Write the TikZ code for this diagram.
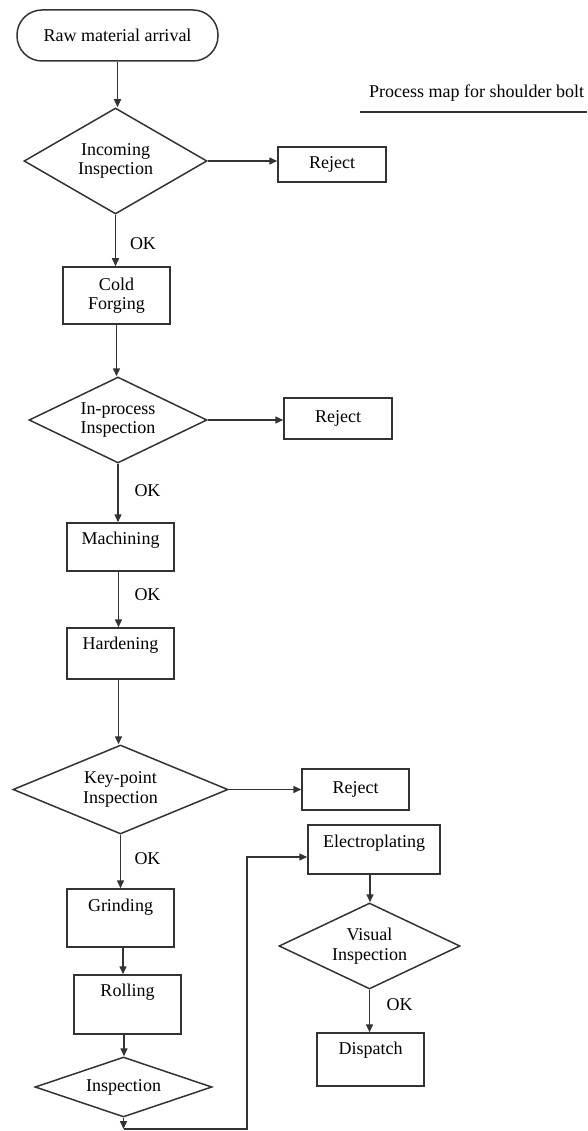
\documentclass[tikz,border=0pt]{standalone}
\usepackage{fontspec}
\setmainfont{Liberation Serif}
\usetikzlibrary{shapes.geometric,arrows.meta,calc}
\begin{document}
\begin{tikzpicture}[x=1pt,y=-1pt,
  every node/.style={font=\fontsize{18}{19.5}\selectfont, text=black},
  ln/.style={draw=black!80, line width=1.5pt},
  arr/.style={ln, -{Triangle[length=8pt,width=7pt]}},
  box/.style={ln, rectangle, inner sep=0pt, align=center},
  dia/.style={ln, diamond, inner sep=0pt, align=center},
  txt/.style={inner sep=0pt, align=center}]
\path[use as bounding box] (0,0) rectangle (587,1131);

% start
\node[ln, rectangle, rounded corners=25pt, minimum width=201pt, minimum height=51pt] (start) at (117.5,35.5) {Raw material arrival};

% title
\node[txt, anchor=base west] (title) at (369,98) {Process map for shoulder bolt};
\coordinate (ul1) at (360,112);
\coordinate (ul2) at (587,112);
\draw[ln] (ul1) -- (ul2);

% main column
\node[dia, aspect=1.73, minimum width=183pt, minimum height=106pt] (d1) at (115.5,161) {Incoming\\Inspection};
\node[box, minimum width=108pt, minimum height=35pt] (rej1) at (332,164.5) {Reject};
\node[box, minimum width=107pt, minimum height=57pt] (cold) at (116.5,295.5) {Cold\\Forging};
\node[dia, aspect=2.07, minimum width=178pt, minimum height=86pt] (d2) at (118,420) {In-process\\Inspection};
\node[box, minimum width=108pt, minimum height=41pt] (rej2) at (338,418.5) {Reject};
\node[box, minimum width=107pt, minimum height=48pt] (mach) at (120.5,547) {};
\node[txt] (macht) at (120.5,540.5) {Machining};
\node[box, minimum width=107pt, minimum height=51pt] (hard) at (120.5,653.5) {};
\node[txt] (hardt) at (120.5,645.5) {Hardening};
\node[dia, aspect=2.4, minimum width=215pt, minimum height=89pt] (d3) at (120.5,789.5) {Key-point\\Inspection};
\node[box, minimum width=107pt, minimum height=41pt] (rej3) at (355.5,789.5) {Reject};
\node[box, minimum width=107pt, minimum height=58pt] (grind) at (120.5,918) {};
\node[txt] (grindt) at (120.5,907.5) {Grinding};
\node[box, minimum width=107pt, minimum height=59pt] (roll) at (127.5,1004.5) {};
\node[txt] (rollt) at (127.5,992.5) {Rolling};
\node[dia, aspect=2.95, minimum width=177pt, minimum height=60pt] (d4) at (123.5,1087) {Inspection};

% right column
\node[box, minimum width=132pt, minimum height=49pt] (elec) at (374,849.5) {};
\node[txt] (elect) at (374,843) {Electroplating};
\node[dia, aspect=2.1, minimum width=181pt, minimum height=86pt] (d5) at (369.5,946) {Visual\\Inspection};
\node[box, minimum width=107pt, minimum height=53pt] (disp) at (370.5,1059.5) {};
\node[txt] (dispt) at (370.5,1050) {Dispatch};

% OK labels
\node[txt] (ok1) at (143,244) {OK};
\node[txt] (ok2) at (147.5,491) {OK};
\node[txt] (ok3) at (147.5,595) {OK};
\node[txt] (ok4) at (147.5,859) {OK};
\node[txt] (ok5) at (399.5,1005) {OK};

% connectors
\draw[arr] (start.south) -- (start.south |- d1.north);
\draw[arr] (d1.east) -- (d1.east -| rej1.west);
\draw[arr] (d1.south) -- (d1.south |- cold.north);
\draw[arr] (cold.south) -- (cold.south |- d2.north);
\draw[arr] (d2.east) -- (d2.east -| rej2.west);
\draw[arr] (d2.south) -- (d2.south |- mach.north);
\draw[arr] ([xshift=-2pt]mach.south) -- ([xshift=-2pt]mach.south |- hard.north);
\draw[arr] ([xshift=-2pt]hard.south) -- ([xshift=-2pt]hard.south |- d3.north);
\draw[arr] (d3.east) -- (d3.east -| rej3.west);
\draw[arr] (d3.south) -- (d3.south |- grind.north);
\draw[arr] ([xshift=2.5pt]grind.south) -- ([xshift=2.5pt]grind.south |- roll.north);
\draw[arr] ([xshift=-3.5pt]roll.south) -- ([xshift=-3.5pt]roll.south |- d4.north);
\coordinate (c1) at (123.5,1129);
\coordinate (c2) at (247,857);
\draw[arr] (d4.south) -- (c1);
\draw[ln, -{Triangle[length=8pt,width=7pt]}] (c1) -| (c2) -- (c2 -| elec.west);
\draw[arr] ([xshift=-4pt]elec.south) -- ([xshift=-4pt]elec.south |- d5.north);
\draw[arr] (d5.south) -- (d5.south |- disp.north);
\end{tikzpicture}
\end{document}
